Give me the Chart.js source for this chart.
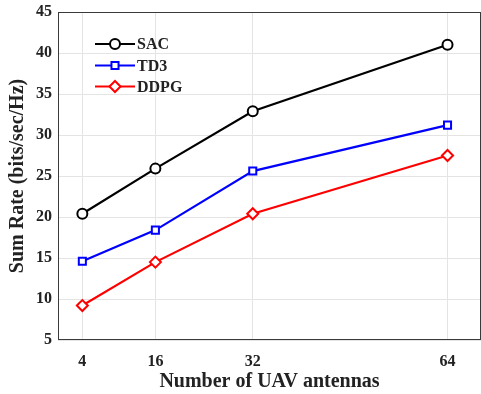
<!DOCTYPE html>
<html><head><meta charset="utf-8">
<script src="https://cdn.jsdelivr.net/npm/chart.js@4"></script>
<style>html,body{margin:0;padding:0;background:#fff;overflow:hidden}#wrap{width:481px;height:394px}</style>
</head><body><div id="wrap"><canvas id="c" width="481" height="394"></canvas></div>
<script>
const antennas = [4, 16, 32, 64];
const sac = [20.4, 25.9, 32.9, 41.0];
const td3 = [14.6, 18.4, 25.6, 31.2];
const ddpg = [9.2, 14.5, 20.4, 27.5];
const seriesNames = ['SAC', 'TD3', 'DDPG'];
const yTicks = [5, 10, 15, 20, 25, 30, 35, 40, 45];

const FONT = "'Liberation Serif', 'Times New Roman', serif";
const mk = (arr) => arr.map((v, i) => ({x: antennas[i], y: v}));

const legendPlugin = {
  id: 'mlegend',
  afterDatasetsDraw(chart) {
    const ctx = chart.ctx;
    const x0 = 95, x1 = 135, ys = [44, 65.5, 86.5];
    chart.data.datasets.forEach((ds, i) => {
      const y = ys[i];
      ctx.save();
      ctx.strokeStyle = ds.borderColor; ctx.lineWidth = 2;
      ctx.beginPath(); ctx.moveTo(x0, y); ctx.lineTo(x1, y); ctx.stroke();
      ctx.fillStyle = ds.pointBackgroundColor; ctx.strokeStyle = ds.borderColor; ctx.lineWidth = ds.pointBorderWidth;
      Chart.helpers.drawPoint(ctx, {pointStyle: ds.pointStyle, radius: ds.pointRadius, borderWidth: ds.pointBorderWidth, rotation: 0}, (x0 + x1) / 2, y);
      ctx.fillStyle = '#222'; ctx.font = 'bold 16px ' + FONT; ctx.textBaseline = 'middle';
      ctx.fillText(ds.label, 137, y + 1);
      ctx.restore();
    });
  }
};
const boxPlugin = {
  id: 'box',
  beforeDatasetsDraw(chart) {
    const a = chart.chartArea, ctx = chart.ctx;
    ctx.save(); ctx.strokeStyle = '#3a3a3a'; ctx.lineWidth = 1;
    ctx.strokeRect(a.left + 0.5, a.top + 0.5, a.right - a.left - 1, a.bottom - a.top - 1);
    ctx.restore();
  }
};

new Chart(document.getElementById('c'), {
  type: 'line',
  data: {
    datasets: [
      {label: seriesNames[0], data: mk(sac), borderColor: '#000000', pointBackgroundColor: '#ffffff', pointBorderColor: '#000000', pointStyle: 'circle', pointRadius: 5, pointBorderWidth: 2, borderWidth: 2.2},
      {label: seriesNames[1], data: mk(td3), borderColor: '#0000ff', pointBackgroundColor: '#ffffff', pointBorderColor: '#0000ff', pointStyle: 'rect', pointRadius: 5, pointBorderWidth: 2, borderWidth: 2.2},
      {label: seriesNames[2], data: mk(ddpg), borderColor: '#ff0000', pointBackgroundColor: '#ffffff', pointBorderColor: '#ff0000', pointStyle: 'rectRot', pointRadius: 5.5, pointBorderWidth: 2, borderWidth: 2.2}
    ]
  },
  options: {
    responsive: false, animation: false, devicePixelRatio: 1,
    layout: {autoPadding: false, padding: {top: 12, right: 0, left: 0, bottom: 0}},
    plugins: {legend: {display: false}, tooltip: {enabled: false}},
    scales: {
      x: {
        type: 'linear', min: 0, max: 69.5,
        afterBuildTicks: s => { s.ticks = antennas.map(v => ({value: v})); },
        afterFit: s => { s.height = 54; s.paddingLeft = 0; s.paddingRight = 0; },
        grid: {color: '#e4e4e4', drawTicks: false},
        border: {display: false},
        ticks: {padding: 12, color: '#222', font: {family: FONT, weight: 'bold', size: 16}},
        title: {display: true, text: 'Number of UAV antennas', color: '#222', font: {family: FONT, weight: 'bold', size: 20}, padding: {top: 0, bottom: 0}}
      },
      y: {
        min: 5, max: 45,
        afterBuildTicks: s => { s.ticks = yTicks.map(v => ({value: v})); },
        afterFit: s => { s.width = 58; s.paddingTop = 0; s.paddingBottom = 0; },
        grid: {color: '#e4e4e4', drawTicks: false},
        border: {display: false},
        ticks: {padding: 6, color: '#222', font: {family: FONT, weight: 'bold', size: 16}},
        title: {display: true, text: 'Sum Rate (bits/sec/Hz)', color: '#222', font: {family: FONT, weight: 'bold', size: 20}, padding: {top: 6, bottom: 0}}
      }
    }
  },
  plugins: [boxPlugin, legendPlugin]
});
</script></body></html>
